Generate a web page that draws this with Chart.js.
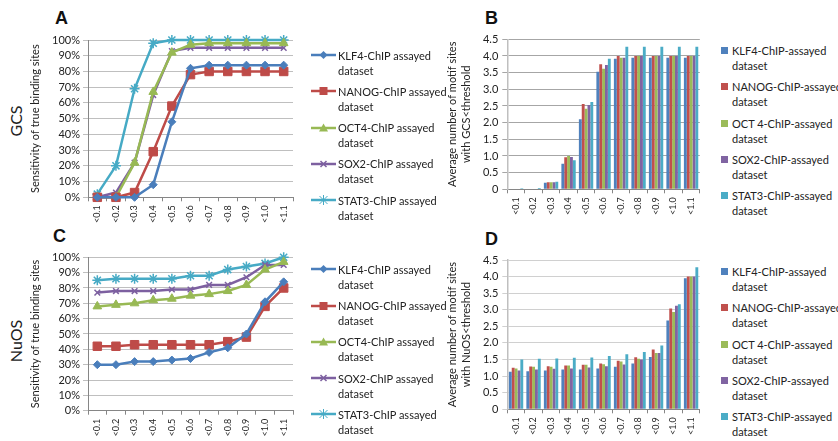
<!DOCTYPE html>
<html lang="en">
<head>
<meta charset="UTF-8">
<title>GCS / NuOS sensitivity and motif sites</title>
<script src="https://cdn.jsdelivr.net/npm/chart.js"></script>
<style>
    body { margin: 0; width: 838px; height: 441px; position: relative; overflow: hidden; background: #fff; font-family: Lato, sans-serif; color: #222; }
    canvas { position: absolute; }
    .letter { position: absolute; font: bold 18px "Liberation Sans", Arial, sans-serif; line-height: 18px; color: #111; }
    .side { position: absolute; font-size: 16px; white-space: nowrap; transform: translate(-50%, -50%) rotate(-90deg); }
    .legend { position: absolute; font-size: 11px; line-height: 15px; }
    .legend .item { position: relative; margin-bottom: 6.3px; white-space: nowrap; }
    .legend svg, .legend .sq { position: absolute; }
</style>
</head>
<body>

<div class="letter" style="left:55px; top:9px;">A</div>
<div class="letter" style="left:485px; top:9px;">B</div>
<div class="letter" style="left:53px; top:227px;">C</div>
<div class="letter" style="left:485px; top:230px;">D</div>

<div class="side" style="left:15px; top:121px;">GCS</div>
<div class="side" style="left:15px; top:341px;">NuOS</div>

<canvas id="chartA" width="300" height="226" style="left:0; top:0;"></canvas>
<canvas id="chartB" width="286" height="222" style="left:420px; top:0;"></canvas>
<canvas id="chartC" width="300" height="219" style="left:0; top:222px;"></canvas>
<canvas id="chartD" width="286" height="219" style="left:420px; top:222px;"></canvas>

<div class="legend" id="legendA" style="left:311px; top:47.5px;"></div>
<div class="legend" id="legendB" style="left:721px; top:43.2px;"></div>
<div class="legend" id="legendC" style="left:311px; top:261.8px;"></div>
<div class="legend" id="legendD" style="left:721px; top:264.2px;"></div>

<script>
    const thresholds = ['<0.1', '<0.2', '<0.3', '<0.4', '<0.5', '<0.6', '<0.7', '<0.8', '<0.9', '<1.0', '<1.1'];

    // A: sensitivity (%) with GCS < threshold
    const gcsSensKLF4  = [0, 0, 0, 8, 48, 82, 84, 84, 84, 84, 84];
    const gcsSensNANOG = [0, 0, 3, 29, 58, 78, 80, 80, 80, 80, 80];
    const gcsSensOCT4  = [0, 0, 22, 67, 92, 97, 98, 98, 98, 98, 98];
    const gcsSensSOX2  = [0, 3, 22, 65, 93, 95, 95, 95, 95, 95, 95];
    const gcsSensSTAT3 = [2, 20, 69, 98, 100, 100, 100, 100, 100, 100, 100];

    // B: average number of motif sites with GCS < threshold
    const gcsSitesKLF4  = [0.02, 0.02, 0.2, 0.77, 2.1, 3.53, 3.92, 3.95, 3.95, 3.95, 3.95];
    const gcsSitesNANOG = [0.02, 0.02, 0.21, 0.96, 2.56, 3.75, 4.0, 4.0, 4.0, 4.0, 4.0];
    const gcsSitesOCT4  = [0.02, 0.02, 0.21, 1.0, 2.42, 3.62, 3.95, 4.0, 4.0, 4.0, 4.0];
    const gcsSitesSOX2  = [0.02, 0.02, 0.21, 0.97, 2.53, 3.73, 3.95, 4.0, 4.0, 4.0, 4.0];
    const gcsSitesSTAT3 = [0.03, 0.04, 0.23, 0.87, 2.62, 3.92, 4.28, 4.28, 4.28, 4.28, 4.28];

    // C: sensitivity (%) with NuOS < threshold
    const nuosSensKLF4  = [30, 30, 32, 32, 33, 34, 38, 41, 50, 71, 84];
    const nuosSensNANOG = [42, 42, 43, 43, 43, 43, 43, 45, 48, 68, 80];
    const nuosSensOCT4  = [68, 69, 70, 72, 73, 75, 76, 78, 82, 92, 97];
    const nuosSensSOX2  = [77, 78, 78, 78, 79, 79, 82, 82, 87, 95, 95];
    const nuosSensSTAT3 = [85, 86, 86, 86, 86, 88, 88, 92, 94, 96, 100];

    // D: average number of motif sites with NuOS < threshold
    const nuosSitesKLF4  = [1.13, 1.15, 1.17, 1.2, 1.2, 1.23, 1.28, 1.38, 1.58, 2.68, 3.95];
    const nuosSitesNANOG = [1.25, 1.29, 1.3, 1.32, 1.34, 1.38, 1.46, 1.57, 1.8, 3.04, 4.0];
    const nuosSitesOCT4  = [1.23, 1.28, 1.28, 1.32, 1.34, 1.36, 1.44, 1.52, 1.7, 2.93, 4.0];
    const nuosSitesSOX2  = [1.17, 1.2, 1.22, 1.23, 1.26, 1.3, 1.35, 1.5, 1.7, 3.12, 4.0];
    const nuosSitesSTAT3 = [1.5, 1.52, 1.53, 1.55, 1.56, 1.61, 1.66, 1.73, 1.92, 3.17, 4.28];

    const lineLegendLabels = [
        ['KLF4-ChIP assayed', 'dataset'],
        ['NANOG-ChIP assayed', 'dataset'],
        ['OCT4-ChIP assayed', 'dataset'],
        ['SOX2-ChIP assayed', 'dataset'],
        ['STAT3-ChIP assayed', 'dataset']
    ];
    const barLegendLabels = [
        ['KLF4-ChIP-assayed', 'dataset'],
        ['NANOG-ChIP-assayed', 'dataset'],
        ['OCT 4-ChIP-assayed', 'dataset'],
        ['SOX2-ChIP-assayed', 'dataset'],
        ['STAT3-ChIP-assayed', 'dataset']
    ];

    const lineColors = ['#4A7EBB', '#BE4B48', '#98B954', '#7D60A0', '#46AAC5'];
    const barColors = ['#4F81BD', '#C0504D', '#9BBB59', '#8064A2', '#4BACC6'];
    const pointStyles = ['rectRot', 'rect', 'triangle', 'crossRot', 'star'];
    const pointRadii = [4, 6, 5, 4, 5];

    Chart.defaults.font.family = 'Lato, sans-serif';
    Chart.defaults.color = '#222';

    function lineChart(id, series, yTitle, padTop, padRight, yWidth, xHeight) {
        new Chart(document.getElementById(id), {
            type: 'line',
            data: {
                labels: thresholds,
                datasets: series.map((d, i) => ({
                    data: d,
                    borderColor: lineColors[i],
                    backgroundColor: lineColors[i],
                    borderWidth: 2.5,
                    tension: 0,
                    clip: false,
                    pointStyle: pointStyles[i],
                    pointRadius: pointRadii[i],
                    pointBorderWidth: i >= 3 ? 1.5 : 1
                }))
            },
            options: {
                responsive: false,
                animation: false,
                events: [],
                layout: { padding: { top: padTop, right: padRight, left: 0, bottom: 0 } },
                plugins: { legend: { display: false }, tooltip: { enabled: false } },
                scales: {
                    x: {
                        offset: true,
                        afterFit: s => { s.height = xHeight; },
                        grid: { offset: true, drawOnChartArea: false, tickLength: 4, color: '#868686' },
                        border: { color: '#868686' },
                        ticks: { minRotation: 90, maxRotation: 90, autoSkip: false, padding: 4, font: { size: 9 } }
                    },
                    y: {
                        min: 0, max: 100,
                        afterFit: s => { s.width = yWidth; },
                        grid: { color: '#BFBFBF', tickLength: 5 },
                        border: { color: '#868686' },
                        ticks: { stepSize: 10, autoSkip: false, padding: 3, font: { size: 11 }, callback: v => v + '%' },
                        title: { display: true, text: yTitle, padding: { top: 29, bottom: 0 }, font: { size: 11 } }
                    }
                }
            }
        });
    }

    function barChart(id, series, yTitle, padTop, padRight, yWidth, xHeight, gridColor) {
        new Chart(document.getElementById(id), {
            type: 'bar',
            data: {
                labels: thresholds,
                datasets: series.map((d, i) => ({
                    data: d,
                    backgroundColor: barColors[i],
                    categoryPercentage: 0.82,
                    barPercentage: 1
                }))
            },
            options: {
                responsive: false,
                animation: false,
                events: [],
                layout: { padding: { top: padTop, right: padRight, left: 0, bottom: 0 } },
                plugins: { legend: { display: false }, tooltip: { enabled: false } },
                scales: {
                    x: {
                        afterFit: s => { s.height = xHeight; },
                        grid: { offset: true, drawOnChartArea: false, tickLength: 4, color: '#868686' },
                        border: { color: '#868686' },
                        ticks: { minRotation: 90, maxRotation: 90, autoSkip: false, padding: 4, font: { size: 9 } }
                    },
                    y: {
                        min: 0, max: 4.5,
                        afterFit: s => { s.width = yWidth; },
                        grid: { color: gridColor, tickLength: 5 },
                        border: { color: '#BFBFBF', width: 1.5 },
                        ticks: { stepSize: 0.5, autoSkip: false, padding: 4, font: { size: 11 } },
                        title: { display: true, text: yTitle, padding: { top: 24.5, bottom: 0 }, font: { size: 11, lineHeight: 1.36 } }
                    }
                }
            }
        });
    }

    lineChart('chartA', [gcsSensKLF4, gcsSensNANOG, gcsSensOCT4, gcsSensSOX2, gcsSensSTAT3],
        'Sensitivity of true binding sites', 40, 7, 88, 28.7);
    barChart('chartB', [gcsSitesKLF4, gcsSitesNANOG, gcsSitesOCT4, gcsSitesSOX2, gcsSitesSTAT3],
        ['Average number of motif sites', 'with GCS<threshold'], 39.3, 2.7, 87.3, 32.7, '#A6A6A6');
    lineChart('chartC', [nuosSensKLF4, nuosSensNANOG, nuosSensOCT4, nuosSensSOX2, nuosSensSTAT3],
        'Sensitivity of true binding sites', 35.3, 7, 88, 30.3);
    barChart('chartD', [nuosSitesKLF4, nuosSitesNANOG, nuosSitesOCT4, nuosSitesSOX2, nuosSitesSTAT3],
        ['Average number of motif sites', 'with NuOS<threshold'], 38, 2.7, 87.3, 31.7, '#D0D0D0');

    // small svg marker for the line legends
    function markerSvg(i) {
        const c = lineColors[i];
        let shape = '';
        if (i === 0) shape = `<polygon points="12.5,2 16.5,6 12.5,10 8.5,6" fill="${c}"/>`;
        if (i === 1) shape = `<rect x="8.5" y="2" width="8" height="8" fill="${c}"/>`;
        if (i === 2) shape = `<polygon points="12.5,1.5 17,9.5 8,9.5" fill="${c}"/>`;
        if (i === 3) shape = `<path d="M9.5 3 L15.5 9 M15.5 3 L9.5 9" stroke="${c}" stroke-width="1.5"/>`;
        if (i === 4) shape = `<path d="M8.5 2 L16.5 10 M16.5 2 L8.5 10 M12.5 1 L12.5 11 M7.5 6 L17.5 6" stroke="${c}" stroke-width="1"/>`;
        return `<svg width="25" height="12" style="left:0; top:1.5px;"><line x1="0" y1="6" x2="25" y2="6" stroke="${c}" stroke-width="2.5"/>${shape}</svg>`;
    }

    function buildLegend(id, labels, kind) {
        const el = document.getElementById(id);
        labels.forEach((lines, i) => {
            const item = document.createElement('div');
            item.className = 'item';
            if (kind === 'line') {
                item.style.paddingLeft = '27px';
                item.innerHTML = markerSvg(i);
            } else {
                item.style.paddingLeft = '11px';
                item.innerHTML = `<span class="sq" style="left:0; top:4px; width:7px; height:7px; background:${barColors[i]}"></span>`;
            }
            lines.forEach(t => {
                const line = document.createElement('div');
                line.textContent = t;
                item.appendChild(line);
            });
            el.appendChild(item);
        });
    }

    buildLegend('legendA', lineLegendLabels, 'line');
    buildLegend('legendC', lineLegendLabels, 'line');
    buildLegend('legendB', barLegendLabels, 'bar');
    buildLegend('legendD', barLegendLabels, 'bar');
</script>

</body>
</html>
